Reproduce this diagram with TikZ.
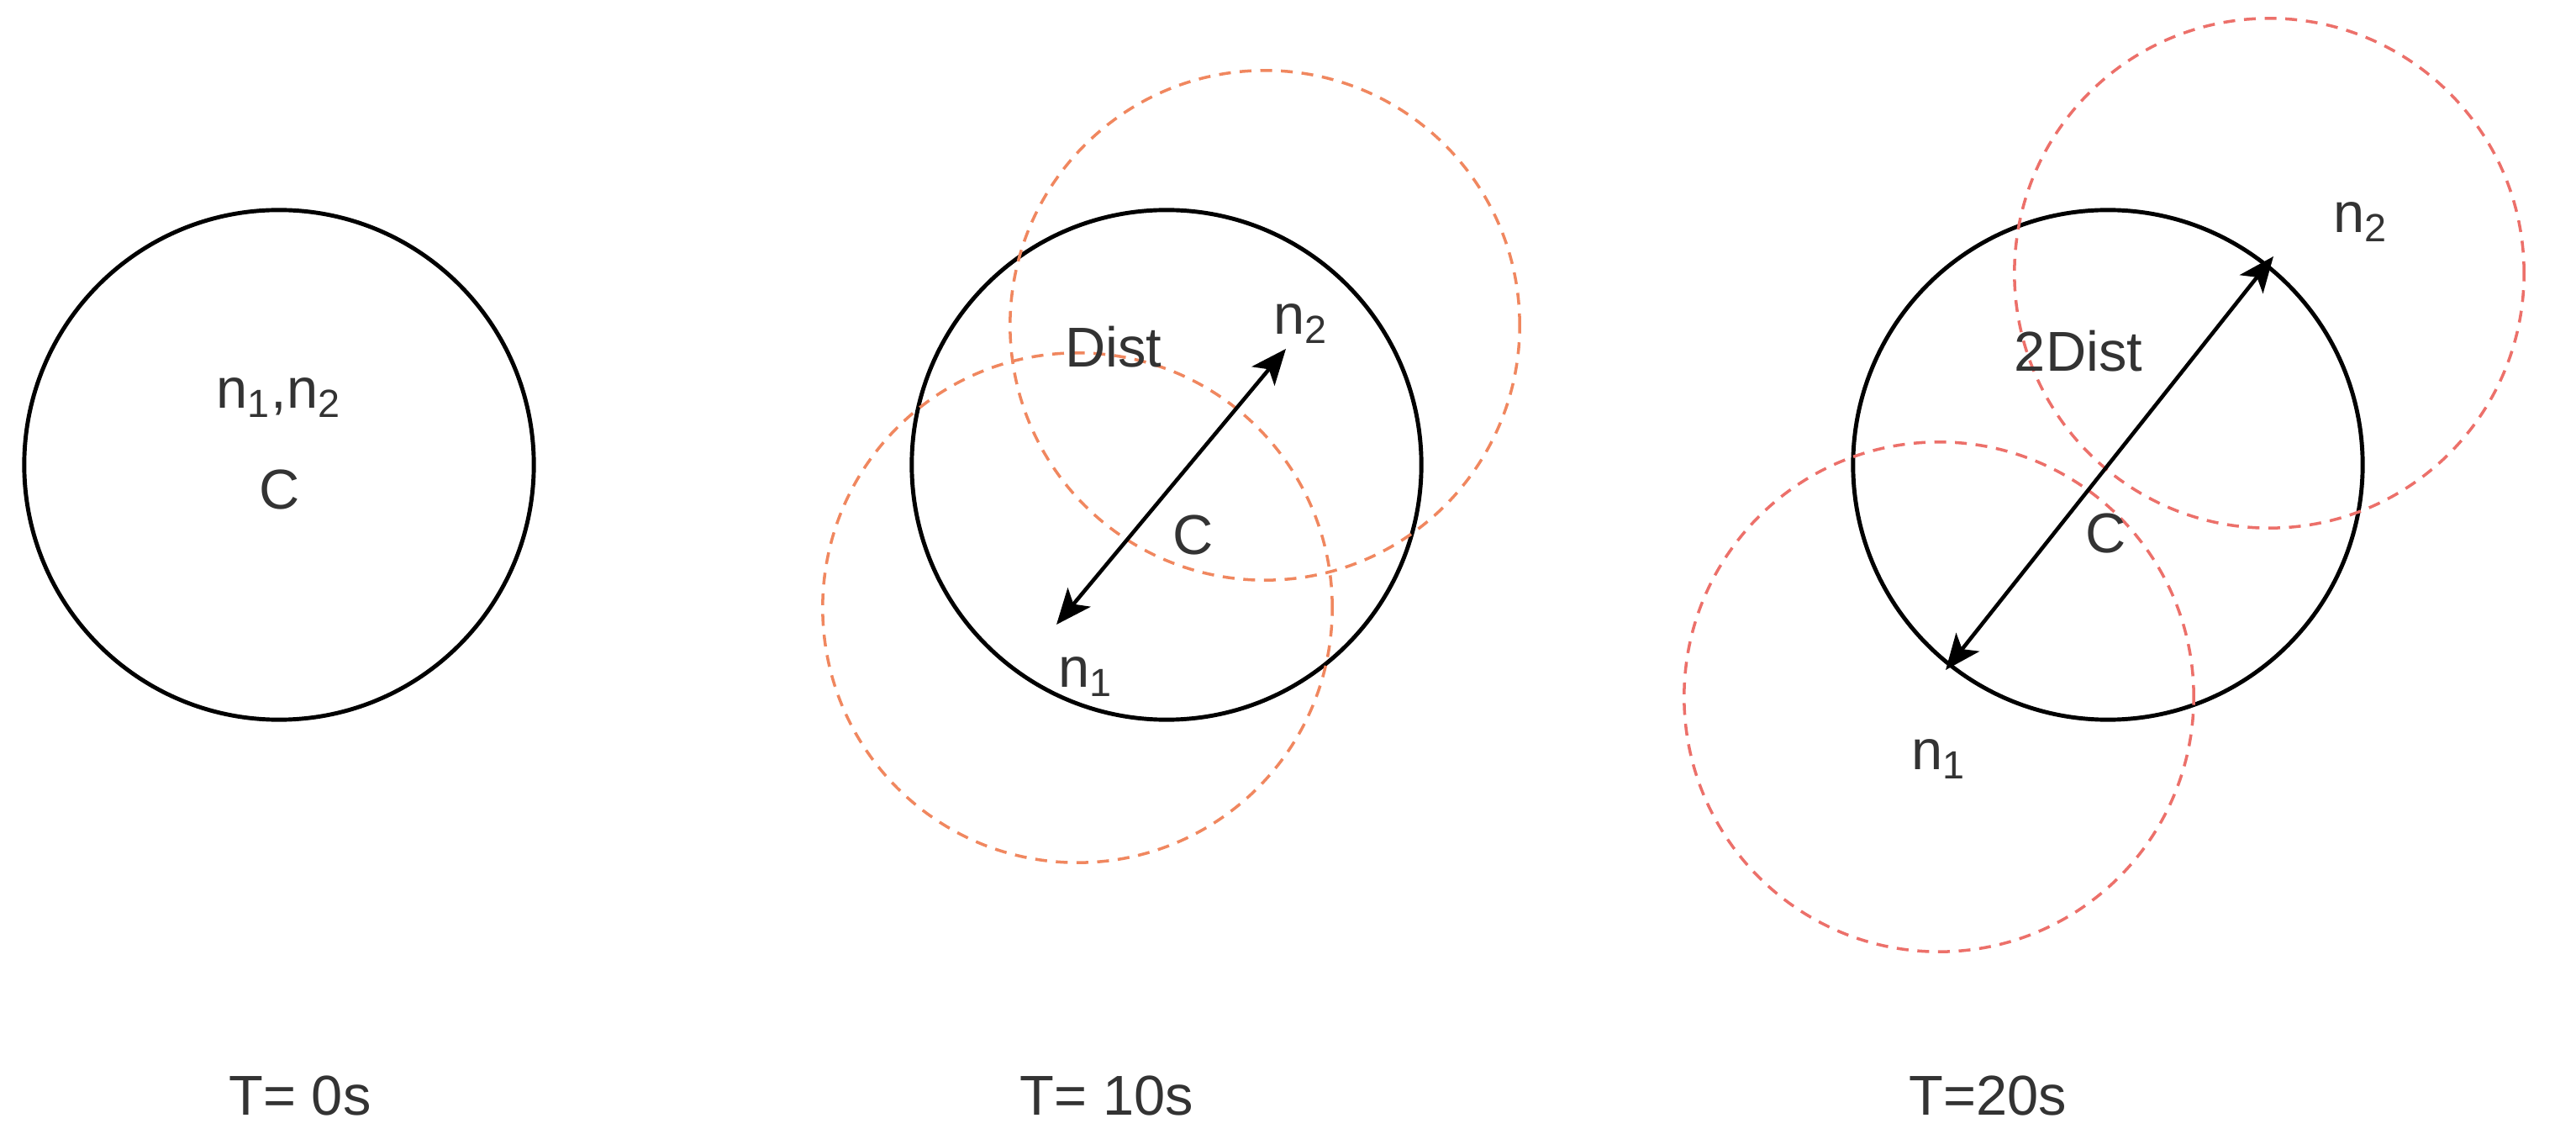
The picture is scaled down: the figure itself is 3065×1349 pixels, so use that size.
\documentclass[tikz,border=0pt]{standalone}
\usepackage{fontspec}
\setmainfont{Liberation Sans}
\usepackage{tikz}
\usetikzlibrary{arrows,arrows.meta}

\definecolor{reachorange}{RGB}{240,135,95}
\definecolor{reachred}{RGB}{236,112,106}

\begin{document}
\begin{tikzpicture}[x=0.01cm,y=-0.01cm]
      \tikzstyle{every node}=[font=\fontsize{19}{22}\selectfont,text=black!80]
      \tikzstyle{area}=[draw,shape=circle,line width=1.4pt,minimum size=6.06cm,inner sep=0pt]
      \tikzstyle{reach}=[draw=reachorange,shape=circle,line width=1pt,dash pattern=on 4pt off 3pt,minimum size=6.06cm,inner sep=0pt]
      \tikzstyle{move}=[{Stealth[length=12pt,width=10pt,inset=3pt]}-{Stealth[length=12pt,width=10pt,inset=3pt]},line width=1.3pt]

      \useasboundingbox (0,0) rectangle (3065,1349);

      % T = 0s
      \node[area] (c0) at (332,553) {};
      \node (n0) at (332,473) {n\textsubscript{1},n\textsubscript{2}};
      \node (m0) at (333,583) {C};
      \node (t0) at (357,1303) {T= 0s};

      % T = 10s
      \node[area] (c1) at (1388,553) {};
      \node[reach] (r1a) at (1505,387) {};
      \node[reach] (r1b) at (1282,723) {};
      \coordinate (p1a) at (1257,743);
      \coordinate (p1b) at (1530,415);
      \draw[move] (p1a) -- (p1b);
      \node (d1) at (1325,413) {Dist};
      \node (n1b) at (1548,385) {n\textsubscript{2}};
      \node (m1) at (1420,636) {C};
      \node (n1a) at (1292,805) {n\textsubscript{1}};
      \node (t1) at (1317,1303) {T= 10s};

      % T = 20s
      \node[area] (c2) at (2508,553) {};
      \node[reach,draw=reachred] (r2a) at (2700,325) {};
      \node[reach,draw=reachred] (r2b) at (2307,829) {};
      \coordinate (p2a) at (2315,797);
      \coordinate (p2b) at (2705,305);
      \draw[move] (p2a) -- (p2b);
      \node (d2) at (2473,418) {2Dist};
      \node (n2b) at (2809,264) {n\textsubscript{2}};
      \node (m2) at (2506,635) {C};
      \node (n2a) at (2307,903) {n\textsubscript{1}};
      \node (t2) at (2365,1303) {T=20s};
    \end{tikzpicture}
\end{document}
